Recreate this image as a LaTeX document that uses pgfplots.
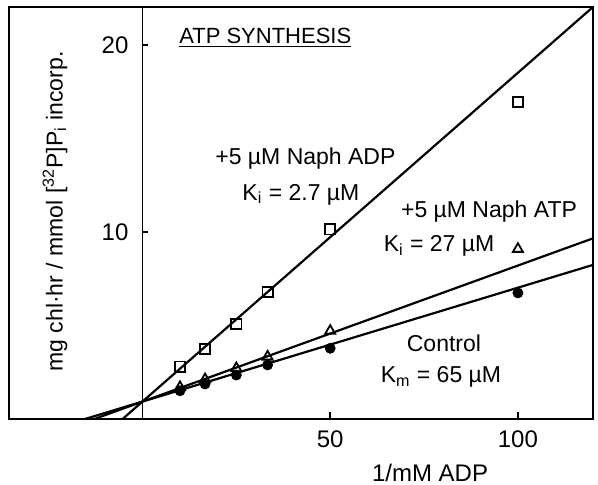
\documentclass[border=0pt]{standalone}
\usepackage{fontspec}
\setmainfont{Liberation Sans}
\usepackage{pgfplots}
\pgfplotsset{compat=1.18}
\begin{document}
\begin{tikzpicture}
\pgfplotsset{
  common/.style={height=206pt,scale only axis,
    xmax=120,ymin=0,ymax=22.03,
    tick style={line width=0.7pt,black},major tick length=3.5pt,
    ticklabel style={font=\fontsize{12}{14}\selectfont},
    /pgf/number format/assume math mode=true},
}
\begin{axis}[common,width=292pt,xmin=-35.55,
  axis line style={line width=0.7pt},
  xtick={50,100},xtick pos=left,tick align=inside,ytick=\empty,
  xticklabel style={yshift=-2.5pt},
  xlabel={1/mM ADP},
  xlabel style={at={(rel axis cs:0.721,0)},anchor=base,yshift=-31.5pt,
    font=\fontsize{12}{14}\selectfont},
  clip=true]
\addplot[no marks,line width=1.1pt] coordinates {(-5.3,0) (120,22.03)};
\addplot[no marks,line width=1.1pt] coordinates {(-12.8,0) (120,9.66)};
\addplot[no marks,line width=1.1pt] coordinates {(-15.3,0) (120,8.24)};
% control
\addplot[only marks,mark=*,mark size=2.5pt,mark options={fill=black}] coordinates {
(10,1.51) (16.67,1.87) (25,2.35) (33.33,2.89) (50,3.78) (100,6.74)};
% + Naph ATP
\addplot[only marks,mark=triangle,mark size=2.9pt,mark options={fill=white,line width=0.9pt}] coordinates {
(10,1.70) (16.67,2.12) (25,2.71) (33.33,3.33) (50,4.71) (100,9.09)};
% + Naph ADP
\addplot[only marks,mark=square,mark size=2.6pt,mark options={fill=white,line width=0.9pt}] coordinates {
(10,2.80) (16.67,3.74) (25,5.08) (33.33,6.79) (50,10.14) (100,16.95)};
\node[anchor=base west,font=\fontsize{11}{13}\selectfont,inner sep=0pt] at (axis cs:9.7,20.1) {\underline{ATP SYNTHESIS}};
\node[anchor=base,font=\fontsize{11.5}{13}\selectfont,inner sep=0pt] at (axis cs:43.4,13.6) {+5 µM Naph ADP};
\node[anchor=base,font=\fontsize{11.5}{13}\selectfont,inner sep=0pt] at (axis cs:42.2,11.7) {K\textsubscript{i} = 2.7 µM};
\node[anchor=base,font=\fontsize{11.5}{13}\selectfont,inner sep=0pt] at (axis cs:92.3,10.8) {+5 µM Naph ATP};
\node[anchor=base,font=\fontsize{11.5}{13}\selectfont,inner sep=0pt] at (axis cs:79,8.95) {K\textsubscript{i} = 27 µM};
\node[anchor=base,font=\fontsize{11.5}{13}\selectfont,inner sep=0pt] at (axis cs:80.3,3.6) {Control};
\node[anchor=base,font=\fontsize{11.5}{13}\selectfont,inner sep=0pt] at (axis cs:79.5,1.94) {K\textsubscript{m} = 65 µM};
\node[rotate=90,font=\fontsize{11.5}{13}\selectfont,inner sep=0pt] at (axis cs:-23.3,11.1) {mg chl·hr / mmol [\textsuperscript{32}P]P\textsubscript{i} incorp.};
\coordinate (bl) at (rel axis cs:0,0);
\coordinate (tr) at (rel axis cs:1,1);
\coordinate (y0) at (axis cs:0,0);
\end{axis}
\begin{axis}[common,width=225.26pt,xmin=0,at={(y0)},anchor=south west,
  axis x line=none,axis y line=left,axis line style={-,line width=0.7pt},
  xtick=\empty,ytick={10,20},tick align=inside,major tick length=3pt,
  yticklabel style={xshift=-3.5pt}]
\end{axis}
\pgfresetboundingbox
\path ([shift={(-4.5pt,-33pt)}]bl) rectangle ([shift={(2.5pt,3.5pt)}]tr);
\end{tikzpicture}
\end{document}
